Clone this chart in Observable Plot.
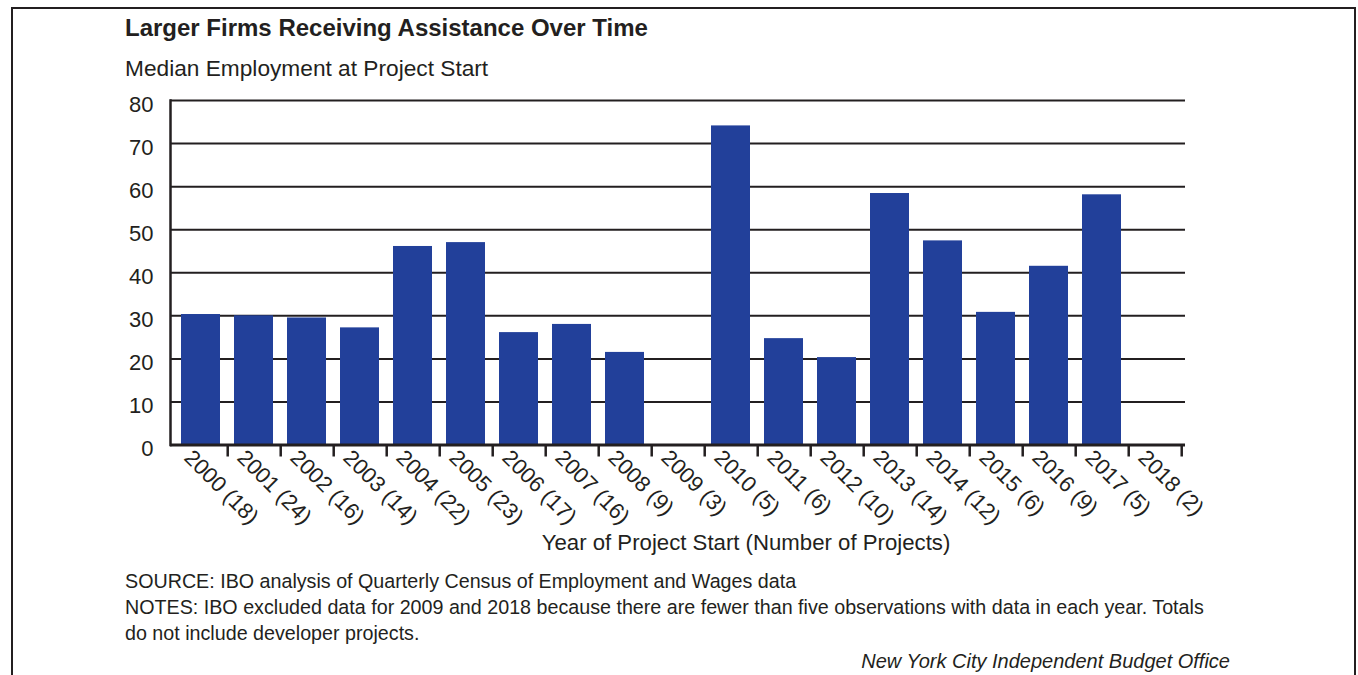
<!DOCTYPE html>
<html>
<head>
<meta charset="utf-8">
<script src="https://cdn.jsdelivr.net/npm/d3@7"></script>
<script src="https://cdn.jsdelivr.net/npm/@observablehq/plot@0.6"></script>
<style>
  html, body { margin: 0; padding: 0; background: #fff; }
  body { width: 1358px; height: 675px; position: relative; overflow: hidden;
         font-family: "Liberation Sans", Arial, sans-serif; color: #231f20; }
  .frame { position: absolute; left: 11px; top: 7px; width: 1341px; height: 720px;
           border: 2px solid #231f20; border-bottom: none; }
  .t { position: absolute; line-height: 1; white-space: nowrap; }
  #title { left: 125px; top: 16px; font-size: 24px; font-weight: bold; }
  #subtitle { left: 125px; top: 57px; font-size: 22.7px; }
  #xlabel { left: 746px; top: 532px; font-size: 22.2px; transform: translateX(-50%); }
  .note { left: 125px; font-size: 19.7px; }
  #credit { right: 128px; top: 651px; font-size: 20px; font-style: italic; }
  #chart { position: absolute; left: 0; top: 80px; }
</style>
</head>
<body>
<div class="frame"></div>
<div class="t" id="title">Larger Firms Receiving Assistance Over Time</div>
<div class="t" id="subtitle">Median Employment at Project Start</div>
<div id="chart"></div>
<div class="t" id="xlabel">Year of Project Start (Number of Projects)</div>
<div class="t note" style="top:572px">SOURCE: IBO analysis of Quarterly Census of Employment and Wages data</div>
<div class="t note" style="top:598px">NOTES: IBO excluded data for 2009 and 2018 because there are fewer than five observations with data in each year. Totals</div>
<div class="t note" style="top:624px">do not include developer projects.</div>
<div class="t" id="credit">New York City Independent Budget Office</div>
<script>
// Project start years and the number of projects started in each
const years = ["2000","2001","2002","2003","2004","2005","2006","2007","2008","2009",
               "2010","2011","2012","2013","2014","2015","2016","2017","2018"];
const projectCounts = [18, 24, 16, 14, 22, 23, 17, 16, 9, 3, 5, 6, 10, 14, 12, 6, 9, 5, 2];
// Median employment at project start (2009 and 2018 withheld: fewer than five observations)
const medianEmployment = [30.3, 30.0, 29.5, 27.2, 46.1, 47.0, 26.1, 28.0, 21.5, null,
                          74.1, 24.7, 20.3, 58.4, 47.4, 30.8, 41.5, 58.1, null];
const yTicks = [0, 10, 20, 30, 40, 50, 60, 70, 80];

const categories = years.map((y, i) => `${y} (${projectCounts[i]})`);
const rows = categories.map((c, i) => ({category: c, value: medianEmployment[i]}));

const ink = "#231f20";
const barColor = "#22409a";
const width = 1358, height = 490;
const marginLeft = 170, marginRight = 173, marginTop = 20, marginBottom = 125.5;
const step = (width - marginLeft - marginRight) / categories.length;

const chart = Plot.plot({
  width, height, marginLeft, marginRight, marginTop, marginBottom,
  style: {fontFamily: "'Liberation Sans', Arial, sans-serif", color: ink, background: "transparent"},
  x: {domain: categories, paddingInner: 0.264, paddingOuter: 0.132, axis: null},
  y: {domain: [0, 80], axis: null},
  marks: [
    Plot.ruleY(yTicks, {stroke: ink, strokeWidth: 2}),
    Plot.barY(rows.filter(d => d.value != null), {x: "category", y: "value", fill: barColor}),
    Plot.ruleY([0], {stroke: ink, strokeWidth: 3}),
    Plot.frame({anchor: "left", stroke: ink, strokeWidth: 2.5}),
    // tick marks sit on the boundaries between year bands
    Plot.axisX({anchor: "bottom", tickSize: 12, tickFormat: () => "", dx: step / 2, label: null,
                stroke: ink, strokeWidth: 2.5, strokeOpacity: 1}),
    Plot.text(categories, {x: d => d, y: 0, rotate: 45, textAnchor: "start",
                           dx: -13, dy: 9, fontSize: 22, fill: ink}),
    Plot.axisY({ticks: yTicks, tickSize: 0, tickPadding: 17, dy: 4, fontSize: 22, fill: ink, label: null})
  ]
});
document.getElementById("chart").append(chart);
</script>
</body>
</html>
